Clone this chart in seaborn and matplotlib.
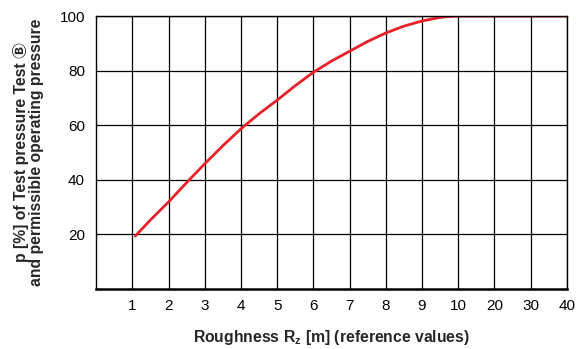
import matplotlib
matplotlib.use("Agg")
import matplotlib.pyplot as plt
import pandas as pd
import seaborn as sns

# roughness axis is categorical-ish: positions 1..13 carry these labels
tick_labels = ["1", "2", "3", "4", "5", "6", "7", "8", "9", "10", "20", "30", "40"]

# curve (x in axis position units, y in %)
pos = [1.08, 1.5, 2.0, 2.5, 3.0, 3.5, 4.0, 4.5, 5.0, 5.5, 6.0, 6.5, 7.0,
       7.5, 8.0, 8.5, 9.0, 9.5, 9.8, 10.0, 11.0, 12.0, 13.0]
pressure = [19.4, 25.3, 31.9, 39.0, 45.9, 52.5, 58.7, 64.2, 69.2, 74.5, 79.4, 83.5, 87.1,
            90.7, 93.8, 96.3, 98.2, 99.5, 99.9, 100.0, 100.0, 100.0, 100.0]

df = pd.DataFrame({"pos": pos, "p": pressure})

sns.set_style("white")
fams = ["Liberation Sans", "DejaVu Sans", "Noto Sans CJK JP"]
plt.rcParams["font.family"] = fams
plt.rcParams["mathtext.fontset"] = "custom"
plt.rcParams["mathtext.rm"] = "Liberation Sans:bold"
plt.rcParams["mathtext.bf"] = "Liberation Sans:bold"

fig = plt.figure(figsize=(5.76, 3.49), dpi=100)
ax = fig.add_axes([0.167, 0.172, 0.817, 0.782])

sns.lineplot(data=df, x="pos", y="p", ax=ax, color="#e8212b", lw=2.0)

ax.set_xlim(0, 13)
ax.set_ylim(0, 100)
ax.set_xticks(range(1, 14))
ax.set_xticklabels(tick_labels)
ax.set_yticks([20, 40, 60, 80, 100])

for x in range(1, 14):
    ax.axvline(x, color="black", lw=0.9, zorder=0)
for y in [20, 40, 60, 80, 100]:
    ax.axhline(y, color="black", lw=0.9, zorder=0)

for s in ax.spines.values():
    s.set_color("black")
    s.set_linewidth(1.0)
ax.spines["bottom"].set_linewidth(1.8)

ax.tick_params(axis="both", length=0, labelsize=11, colors="black")
ax.tick_params(axis="x", pad=7)
ax.tick_params(axis="y", pad=8)

ax.set_xlabel(r"Roughness R$_\mathbf{z}$ [m] (reference values)",
              fontsize=11.3, fontweight="bold", labelpad=11)
ax.set_ylabel("p [%] of Test pressure Test \u24b7\nand permissible operating pressure",
              fontsize=11.3, fontweight="bold", labelpad=11, linespacing=1.0,
              family=fams)

fig.savefig("out.png", dpi=100)
